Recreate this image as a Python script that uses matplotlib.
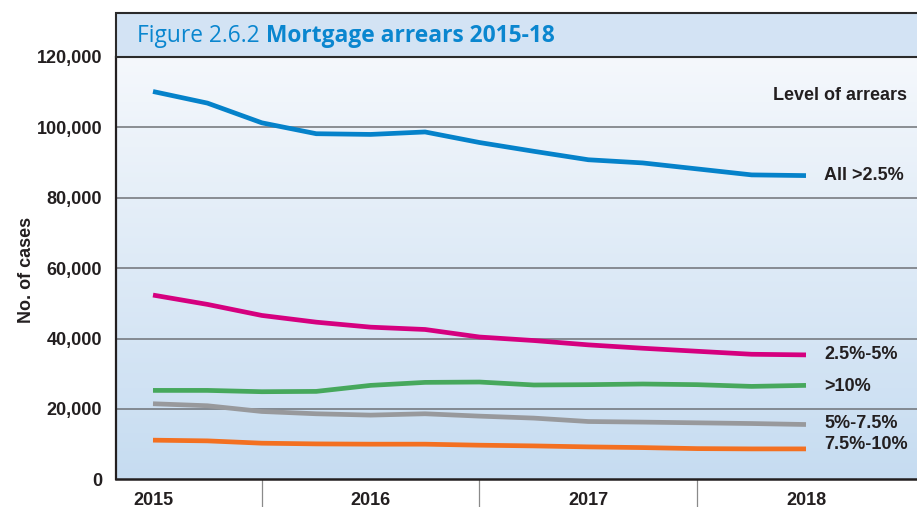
import matplotlib
matplotlib.use('Agg')
import matplotlib.pyplot as plt
import numpy as np
from matplotlib.colors import LinearSegmentedColormap
from matplotlib.patches import Rectangle

# ---------------- data ----------------
periods = list(range(13))                 # quarterly points, 2015 .. 2018
year_labels = ['2015', '2016', '2017', '2018']
year_positions = [0, 4, 8, 12]
separator_positions = [2, 6, 10]

all_over_2_5 = [110200, 106900, 101300, 98200, 98000, 98700, 95700, 93200, 90800, 89900, 88200, 86500, 86300]
arrears_2_5_5 = [52350, 49700, 46560, 44650, 43230, 42570, 40430, 39430, 38200, 37240, 36380, 35530, 35350]
arrears_over_10 = [25260, 25260, 24890, 24980, 26690, 27540, 27640, 26800, 26890, 27080, 26890, 26400, 26690]
arrears_5_7_5 = [21470, 20900, 19270, 18620, 18240, 18620, 17950, 17390, 16420, 16250, 16050, 15850, 15570]
arrears_7_5_10 = [11120, 10920, 10260, 10060, 9980, 9980, 9690, 9490, 9210, 9010, 8720, 8640, 8640]

series_names = ['All >2.5%', '2.5%-5%', '>10%', '5%-7.5%', '7.5%-10%']
series_values = [all_over_2_5, arrears_2_5_5, arrears_over_10, arrears_5_7_5, arrears_7_5_10]
series_colors = ['#0582ca', '#d5007f', '#46a85c', '#98999c', '#f37021']
label_dy = [0, 0, 1, -1, -4]   # small pixel nudges of end labels

y_ticks = [0, 20000, 40000, 60000, 80000, 100000, 120000]

# ---------------- style ----------------
FONT = ['Liberation Sans', 'DejaVu Sans']
TXT = '#231f20'
FS = 13
plt.rcParams['font.family'] = FONT

W, H = 917, 507
fig = plt.figure(figsize=(W / 100, H / 100), dpi=100)
fig.patch.set_facecolor('white')

left_px, right_px, top_px, bottom_px = 116, 917, 57, 479.3
ax = fig.add_axes([left_px / W, 1 - bottom_px / H, (right_px - left_px) / W, (bottom_px - top_px) / H])

# gradient background
cmap = LinearSegmentedColormap.from_list('bg', ['#f5f8fc', '#c6dcf1'])
grad = np.linspace(0, 1, 256).reshape(-1, 1)
ax.imshow(grad, cmap=cmap, aspect='auto', extent=[0, 1, 0, 1], transform=ax.transAxes, zorder=0)

ax.set_xlim(-0.68, 14.04)
ax.set_ylim(0, 120000)

for yv in y_ticks[1:]:
    ax.axhline(yv, color='#6f7277', lw=1.1, zorder=1)

for name, vals, col, dy in zip(series_names, series_values, series_colors, label_dy):
    ax.plot(periods, vals, color=col, lw=3.4, solid_capstyle='butt', solid_joinstyle='round', zorder=3)
    ax.annotate(name, xy=(periods[-1], vals[-1]), xytext=(13, -dy * 0.72), textcoords='offset points',
                ha='left', va='center', fontsize=FS, fontweight='bold', color=TXT, family=FONT)

ax.text(0.9875, 0.91, 'Level of arrears', transform=ax.transAxes, ha='right', va='center',
        fontsize=FS, fontweight='bold', color=TXT, family=FONT)

# axes styling
for s in ['top', 'right']:
    ax.spines[s].set_visible(False)
ax.spines['left'].set_color('#231f20')
ax.spines['left'].set_linewidth(1.6)
ax.spines['bottom'].set_color('#231f20')
ax.spines['bottom'].set_linewidth(1.8)

ax.set_yticks(y_ticks)
ax.set_yticklabels([f'{v:,}' for v in y_ticks])
ax.tick_params(axis='y', length=0, pad=10, labelsize=FS, labelcolor=TXT)
for t in ax.get_yticklabels():
    t.set_fontweight('bold')

ax.set_xticks(year_positions)
ax.set_xticklabels(year_labels)
ax.set_xticks(separator_positions, minor=True)
ax.tick_params(axis='x', which='major', length=0, pad=9, labelsize=FS, labelcolor=TXT)
ax.tick_params(axis='x', which='minor', length=22, width=0.9, color='#8a8a8a', direction='out')
for t in ax.get_xticklabels():
    t.set_fontweight('bold')

fig.text(27 / W, 1 - 270 / H, 'No. of cases', rotation=90, ha='center', va='center',
         fontsize=FS, fontweight='bold', color=TXT, family=FONT)

# title band
band = Rectangle((left_px / W, 1 - top_px / H), 1.2, (top_px - 13) / H, transform=fig.transFigure,
                 facecolor='#d3e3f4', edgecolor='#2b2b2b', lw=1.5, zorder=5)
fig.add_artist(band)

TITLE_FONT = ['Open Sans', 'DejaVu Sans']
t1 = fig.text(137 / W, 1 - 36 / H, 'Figure 2.6.2 ', ha='left', va='center', fontsize=16.4,
              color='#0a86cf', family=TITLE_FONT, zorder=6)
fig.canvas.draw()
r = fig.canvas.get_renderer()
bb = t1.get_window_extent(renderer=r)
fig.text(bb.x1 / W, 1 - 36 / H, 'Mortgage arrears 2015-18', ha='left', va='center', fontsize=16.4,
         fontweight='bold', color='#0a86cf', family=TITLE_FONT, zorder=6)

fig.savefig('out.png', dpi=100)
